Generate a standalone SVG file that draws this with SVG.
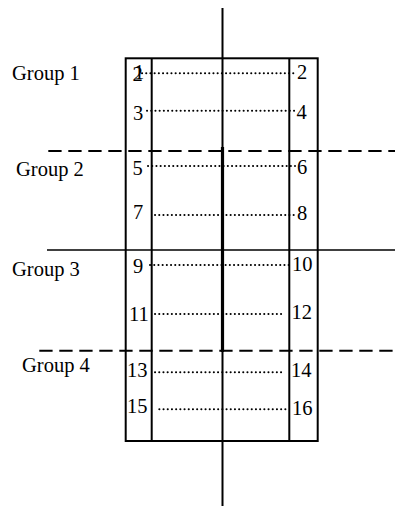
<svg xmlns="http://www.w3.org/2000/svg" width="395" height="508" viewBox="0 0 395 508">
<style>
.t{font-family:"Liberation Serif","Times New Roman","DejaVu Serif",serif;font-size:20.5px;fill:#000}
.s{stroke:#000;fill:none}
.dot{stroke:#000;stroke-width:2;stroke-linecap:round;stroke-dasharray:0.1 4.1;fill:none}
.dash{stroke:#000;stroke-width:2;stroke-dasharray:13.3 6.7;fill:none}
</style>
<rect width="395" height="508" fill="#fff"/>
<g id="frame">
<rect class="s" x="125.7" y="58.3" width="192" height="382.7" stroke-width="2"/>
<line class="s" x1="151.7" y1="58.3" x2="151.7" y2="441" stroke-width="2"/>
<line class="s" x1="289.3" y1="58.3" x2="289.3" y2="441" stroke-width="2"/>
</g>
<g id="connectors">
<line class="dot" x1="142" y1="73.3" x2="295" y2="73.3"/>
<line class="dot" x1="147" y1="110.7" x2="295" y2="110.7"/>
<line class="dot" x1="148" y1="166" x2="295" y2="166"/>
<line class="dot" x1="155" y1="215" x2="295" y2="215"/>
<line class="dot" x1="150" y1="265" x2="291" y2="265"/>
<line class="dot" x1="155" y1="314" x2="282" y2="314"/>
<line class="dot" x1="155" y1="372.3" x2="285" y2="372.3"/>
<line class="dot" x1="159.3" y1="409.3" x2="289" y2="409.3"/>
</g>
<g id="dividers">
<line class="dash" x1="48.3" y1="151" x2="395" y2="151"/>
<line class="s" x1="47" y1="250" x2="395" y2="250" stroke-width="1.6"/>
<line class="dash" x1="39.3" y1="350.7" x2="395" y2="350.7"/>
</g>
<g id="axis">
<line class="s" x1="222.5" y1="8" x2="222.5" y2="506" stroke-width="2"/>
<line class="s" x1="222.5" y1="147" x2="222.5" y2="352" stroke-width="3.2"/>
</g>
<g id="groups">
<text class="t" x="12" y="80">Group 1</text>
<text class="t" x="16" y="176">Group 2</text>
<text class="t" x="12" y="275.7">Group 3</text>
<text class="t" x="22" y="371.7">Group 4</text>
</g>
<g id="numbers">
<text class="t" x="132.5" y="80.5">2</text>
<text class="t" x="134" y="78.5">1</text>
<text class="t" x="297" y="78.5">2</text>
<text class="t" x="133" y="120">3</text>
<text class="t" x="296.5" y="119">4</text>
<text class="t" x="132.5" y="175">5</text>
<text class="t" x="297" y="173.5">6</text>
<text class="t" x="133" y="219">7</text>
<text class="t" x="297" y="220">8</text>
<text class="t" x="133" y="272.7">9</text>
<text class="t" x="292" y="271">10</text>
<text class="t" x="129" y="321">11</text>
<text class="t" x="291.5" y="319">12</text>
<text class="t" x="127" y="376.7">13</text>
<text class="t" x="291" y="376.7">14</text>
<text class="t" x="127" y="412.7">15</text>
<text class="t" x="292" y="415">16</text>
</g>
</svg>
